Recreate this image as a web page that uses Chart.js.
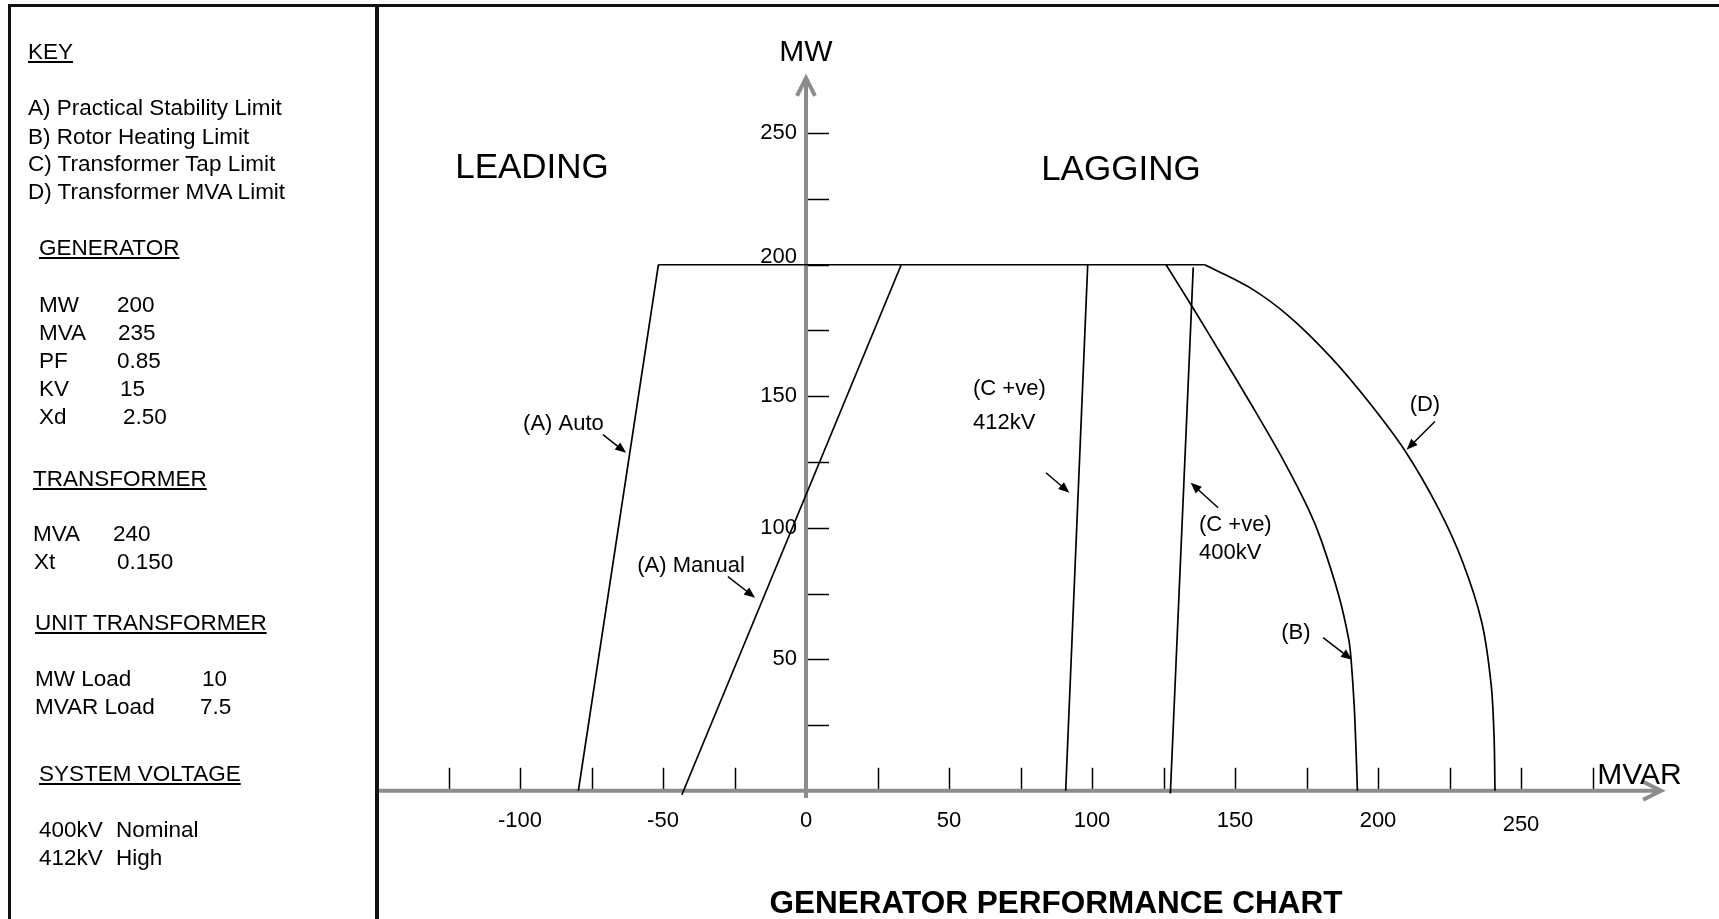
<!DOCTYPE html>
<html>
<head>
<meta charset="utf-8">
<script src="https://cdn.jsdelivr.net/npm/chart.js@4.4.1/dist/chart.umd.min.js"></script>
<style>
html,body{margin:0;padding:0;background:#fff;width:1719px;height:919px;overflow:hidden;font-family:"Liberation Sans",Arial,sans-serif;}
#wrap{position:absolute;left:0;top:0;width:1719px;height:919px;}
.t{position:absolute;font-size:22.5px;line-height:28px;white-space:pre;color:#000;}
.u{text-decoration:underline;text-underline-offset:2px;}
.frame{position:absolute;background:#111;}
#title{position:absolute;left:656px;top:884px;width:800px;text-align:center;font-weight:bold;font-size:31.5px;line-height:36px;color:#000;}
</style>
</head>
<body>
<div id="wrap"><canvas id="c"></canvas></div>

<div class="frame" style="left:8px;top:4px;width:1711px;height:3px"></div>
<div class="frame" style="left:8px;top:4px;width:3px;height:915px"></div>
<div class="frame" style="left:375px;top:4px;width:4px;height:915px"></div>

<div class="t u" style="left:28px;top:38px">KEY</div>
<div class="t" style="left:28px;top:94px">A) Practical Stability Limit</div>
<div class="t" style="left:28px;top:123px">B) Rotor Heating Limit</div>
<div class="t" style="left:28px;top:150px">C) Transformer Tap Limit</div>
<div class="t" style="left:28px;top:178px">D) Transformer MVA Limit</div>

<div class="t u" style="left:39px;top:234px">GENERATOR</div>
<div class="t" style="left:39px;top:291px">MW</div><div class="t" style="left:117px;top:291px">200</div>
<div class="t" style="left:39px;top:319px">MVA</div><div class="t" style="left:118px;top:319px">235</div>
<div class="t" style="left:39px;top:347px">PF</div><div class="t" style="left:117px;top:347px">0.85</div>
<div class="t" style="left:39px;top:375px">KV</div><div class="t" style="left:120px;top:375px">15</div>
<div class="t" style="left:39px;top:403px">Xd</div><div class="t" style="left:123px;top:403px">2.50</div>

<div class="t u" style="left:33px;top:465px">TRANSFORMER</div>
<div class="t" style="left:33px;top:520px">MVA</div><div class="t" style="left:113px;top:520px">240</div>
<div class="t" style="left:34px;top:548px">Xt</div><div class="t" style="left:117px;top:548px">0.150</div>

<div class="t u" style="left:35px;top:609px">UNIT TRANSFORMER</div>
<div class="t" style="left:35px;top:665px">MW Load</div><div class="t" style="left:202px;top:665px">10</div>
<div class="t" style="left:35px;top:693px">MVAR Load</div><div class="t" style="left:200px;top:693px">7.5</div>

<div class="t u" style="left:39px;top:760px">SYSTEM VOLTAGE</div>
<div class="t" style="left:39px;top:816px">400kV</div><div class="t" style="left:116px;top:816px">Nominal</div>
<div class="t" style="left:39px;top:844px">412kV</div><div class="t" style="left:116px;top:844px">High</div>

<div id="title">GENERATOR PERFORMANCE CHART</div>

<script>
// ---- Data (MVAR = x, MW = y) ----
const autoQ = [-79.6, -51.6];
const autoP = [0, 200];
const manualQ = [-43.4, 33.3];
const manualP = [-1.5, 200];
const topQ = [-51.6, 139.4];
const topP = [200, 200];
const tap412Q = [90.8, 98.5];
const tap412P = [0, 200];
const tap400Q = [127.4, 135.4];
const tap400P = [-1, 199];
const rotorQ = [125.9, 135.0, 144.2, 156.1, 166.8, 175.8, 180.1, 186.4, 189.8, 190.6, 191.7, 192.4, 192.8];
const rotorP = [200, 184.1, 167.7, 146.1, 125.9, 106.8, 95.4, 73.8, 57.4, 49.8, 31.9, 12.9, 0];
const mvaQ = [139.4, 155.2, 169.0, 183.8, 197.0, 209.6, 221.3, 229.6, 236.3, 239.6, 240.6, 240.9];
const mvaP = [200, 191.3, 180.3, 164.5, 147.5, 129.0, 107.0, 87.0, 64.0, 40.0, 20.0, 0];

// ---- Axis ticks / labels ----
const xTickValues = [-125, -100, -75, -50, -25, 25, 50, 75, 100, 125, 150, 175, 200, 225, 250, 275];
const xLabelValues = [-100, -50, 0, 50, 100, 150, 200, 250];
const yTickValues = [25, 50, 75, 100, 125, 150, 175, 200, 225, 250];
const yLabelValues = [50, 100, 150, 200, 250];
const xAxisRange = [-150, 299];
const yAxisRange = [-2.7, 271];
// small hand-drawn label nudges (pixels)
const xLabelNudge = [0, 0, 0, 0, 0, 0, 0, 4];
const yLabelNudge = [0, 0, 0, -8, 0];

// ---- Annotations (in data units) ----
const noteText = ['(A) Auto', '(A) Manual', '(C +ve)', '412kV', '(C +ve)', '400kV', '(B)', '(D)'];
const noteQ = [-84.8, -40.2, 58.4, 58.4, 137.4, 137.4, 171.3, 216.4];
const noteP = [139.5, 85.6, 152.9, 139.9, 101.1, 90.5, 60.0, 146.8];
const noteAlign = ['center', 'center', 'left', 'left', 'left', 'left', 'center', 'center'];
const arrowFromQ = [-71.0, -27.3, 83.9, 144.1, 180.8, 219.9];
const arrowFromP = [135.4, 81.4, 120.9, 107.6, 58.2, 140.4];
const arrowToQ = [-62.9, -17.8, 92.1, 134.5, 190.9, 210.0];
const arrowToP = [128.5, 73.4, 113.3, 117.1, 49.8, 129.7];

const regionText = ['LEADING', 'LAGGING'];
const regionQ = [-95.8, 110.1];
const regionP = [233.1, 232.3];

const pts = (qs, ps) => qs.map((q, i) => ({x: q, y: ps[i]}));
const lineDs = (label, qs, ps, tension) => ({
  label, data: pts(qs, ps), showLine: true, borderColor: '#000', borderWidth: 1.7,
  pointRadius: 0, tension: tension || 0, fill: false
});

const FONT = '"Liberation Sans", Arial, sans-serif';

const axesPlugin = {
  id: 'axesPlugin',
  beforeDatasetsDraw(chart) {
    const ctx = chart.ctx, sx = chart.scales.x, sy = chart.scales.y;
    const px = v => sx.getPixelForValue(v), py = v => sy.getPixelForValue(v);
    ctx.save();
    ctx.strokeStyle = '#8c8c8c';
    ctx.lineWidth = 4;
    ctx.lineCap = 'butt';
    ctx.beginPath();
    ctx.moveTo(px(xAxisRange[0]), py(0));
    ctx.lineTo(px(xAxisRange[1]) - 2, py(0));
    ctx.stroke();
    ctx.beginPath();
    ctx.moveTo(px(xAxisRange[1]) - 18, py(0) - 9);
    ctx.lineTo(px(xAxisRange[1]), py(0));
    ctx.lineTo(px(xAxisRange[1]) - 18, py(0) + 9);
    ctx.stroke();
    ctx.beginPath();
    ctx.moveTo(px(0), py(yAxisRange[0]));
    ctx.lineTo(px(0), py(yAxisRange[1]) + 2);
    ctx.stroke();
    ctx.beginPath();
    ctx.moveTo(px(0) - 9, py(yAxisRange[1]) + 18);
    ctx.lineTo(px(0), py(yAxisRange[1]));
    ctx.lineTo(px(0) + 9, py(yAxisRange[1]) + 18);
    ctx.stroke();
    ctx.restore();
  },
  afterDatasetsDraw(chart) {
    const ctx = chart.ctx, sx = chart.scales.x, sy = chart.scales.y;
    const px = v => sx.getPixelForValue(v), py = v => sy.getPixelForValue(v);
    ctx.save();
    ctx.strokeStyle = '#000';
    ctx.fillStyle = '#000';
    ctx.lineWidth = 1.5;
    xTickValues.forEach(v => {
      ctx.beginPath();
      ctx.moveTo(Math.round(px(v)) + 0.5, py(0) - 2);
      ctx.lineTo(Math.round(px(v)) + 0.5, py(0) - 23);
      ctx.stroke();
    });
    yTickValues.forEach(v => {
      ctx.beginPath();
      ctx.moveTo(px(0) + 2, Math.round(py(v)) + 0.5);
      ctx.lineTo(px(0) + 23, Math.round(py(v)) + 0.5);
      ctx.stroke();
    });
    ctx.font = '22px ' + FONT;
    ctx.textAlign = 'center';
    ctx.textBaseline = 'middle';
    xLabelValues.forEach((v, i) => ctx.fillText(String(v), px(v), py(0) + 30 + xLabelNudge[i]));
    ctx.textAlign = 'right';
    yLabelValues.forEach((v, i) => ctx.fillText(String(v), px(0) - 9, py(v) + yLabelNudge[i]));
    ctx.textBaseline = 'alphabetic';
    ctx.font = '30px ' + FONT;
    ctx.textAlign = 'center';
    ctx.fillText('MW', px(0), py(yAxisRange[1]) - 17);
    ctx.textAlign = 'left';
    ctx.fillText('MVAR', px(xAxisRange[1]) - 64, py(0) - 7);
    ctx.font = '35px ' + FONT;
    ctx.textAlign = 'center';
    regionText.forEach((t, i) => ctx.fillText(t, px(regionQ[i]), py(regionP[i])));
    ctx.font = '22px ' + FONT;
    ctx.textBaseline = 'middle';
    noteText.forEach((t, i) => {
      ctx.textAlign = noteAlign[i];
      ctx.fillText(t, px(noteQ[i]), py(noteP[i]));
    });
    ctx.lineWidth = 1.5;
    arrowFromQ.forEach((q, i) => {
      const x1 = px(q), y1 = py(arrowFromP[i]), x2 = px(arrowToQ[i]), y2 = py(arrowToP[i]);
      const a = Math.atan2(y2 - y1, x2 - x1), h = 11, w = 4.5;
      ctx.beginPath();
      ctx.moveTo(x1, y1);
      ctx.lineTo(x2 - Math.cos(a) * h * 0.7, y2 - Math.sin(a) * h * 0.7);
      ctx.stroke();
      ctx.beginPath();
      ctx.moveTo(x2, y2);
      ctx.lineTo(x2 - h * Math.cos(a) + w * Math.sin(a), y2 - h * Math.sin(a) - w * Math.cos(a));
      ctx.lineTo(x2 - h * Math.cos(a) - w * Math.sin(a), y2 - h * Math.sin(a) + w * Math.cos(a));
      ctx.closePath();
      ctx.fill();
    });
    ctx.restore();
  }
};

new Chart(document.getElementById('c'), {
  type: 'scatter',
  data: {
    datasets: [
      lineDs('(A) Auto', autoQ, autoP),
      lineDs('(A) Manual', manualQ, manualP),
      lineDs('200 MW limit', topQ, topP),
      lineDs('(C +ve) 412kV', tap412Q, tap412P),
      lineDs('(C +ve) 400kV', tap400Q, tap400P),
      lineDs('(B) Rotor Heating', rotorQ, rotorP, 0.3),
      lineDs('(D) Transformer MVA', mvaQ, mvaP, 0.3)
    ]
  },
  options: {
    responsive: true,
    maintainAspectRatio: false,
    devicePixelRatio: 1,
    animation: false,
    events: [],
    layout: {padding: {left: 377, right: 55, top: 28, bottom: 23}},
    scales: {
      x: {type: 'linear', min: -150, max: 300, display: false},
      y: {type: 'linear', min: -40, max: 290, display: false}
    },
    plugins: {legend: {display: false}, tooltip: {enabled: false}, title: {display: false}},
    clip: false
  },
  plugins: [axesPlugin]
});
</script>
</body>
</html>
